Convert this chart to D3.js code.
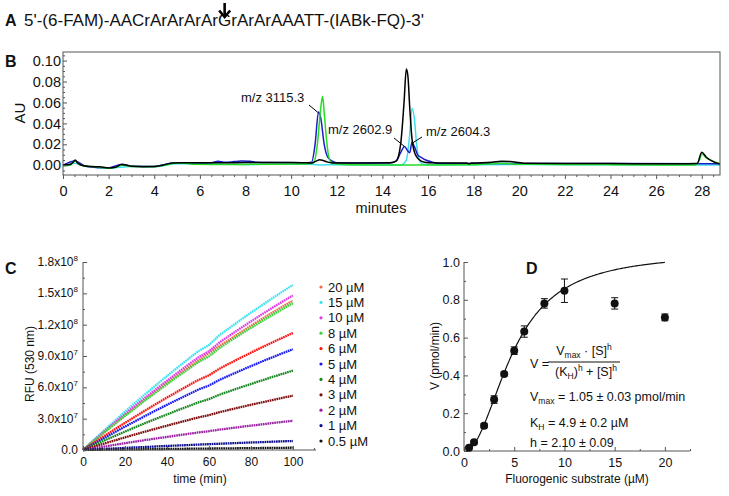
<!DOCTYPE html>
<html><head><meta charset="utf-8">
<script src="https://cdn.jsdelivr.net/npm/d3@7"></script>
<style>body{margin:0;background:#fff} text{font-family:"Liberation Sans",Arial,sans-serif;fill:#111}</style>
</head><body><svg id="c" width="729" height="496"></svg>
<script>
// ---------------- DATA ----------------
const seqLabel = "5'-(6-FAM)-AACrArArArArGrArArAAATT-(IABk-FQ)-3'";

// Panel B: chromatogram traces (minutes, AU)
const blackT = [0,0.3,0.45,0.53,0.65,0.9,1.2,1.6,2.0,2.3,2.55,2.75,3.0,3.5,4.0,4.4,4.8,5.2,6,7,8,9,10,10.5,10.9,11.1,11.25,11.4,11.6,11.9,12.5,13.5,14.3,14.6,14.8,14.95,15.05,15.12,15.2,15.3,15.45,15.7,16,17,17.7,17.8,17.9,18.8,19.2,19.6,20.2,22,24,25,27,27.8,28.0,28.2,28.5,28.8];
const blackAU = [0.0005,0.0008,0.003,0.005,0.002,-0.0005,-0.0012,-0.0015,-0.0025,-0.002,0.0008,0.0003,-0.001,-0.0013,-0.0012,0.0003,0.0022,0.0025,0.0025,0.0024,0.0026,0.0026,0.0027,0.0025,0.0022,0.004,0.0052,0.0045,0.003,0.0022,0.0022,0.0022,0.0023,0.004,0.02,0.06,0.092,0.085,0.055,0.025,0.01,0.004,0.0025,0.0022,0.0022,0.0012,0.0022,0.0028,0.0038,0.0035,0.002,0.0018,0.0016,0.0015,0.0015,0.0018,0.0124,0.0077,0.0035,0.0012];
const greenT = [0,0.3,0.53,0.7,1,1.5,2,2.3,2.6,3,4,4.5,4.9,5.4,5.7,7,8,9,10.3,10.8,11.0,11.15,11.3,11.38,11.45,11.55,11.65,11.8,12.5,14,16,18,18.8,19.2,20,22,23.9,24.1,26,27.7,27.9,28.0,28.2,28.5,28.8];
const greenAU = [-0.0005,0,0.004,0.001,-0.001,-0.0015,-0.0028,-0.002,0.0003,-0.0012,-0.0013,0.0003,0.002,0.002,0.001,0.0008,0.0008,0.001,0.0012,0.0015,0.003,0.02,0.055,0.066,0.05,0.025,0.008,0.002,0.0005,0.0002,0.0003,0.0005,0.0015,0.002,0.001,0.0008,0.0008,0.0004,0.0003,0.0003,0.005,0.011,0.007,0.004,0.0015];
const blueT = [0,0.53,1,2,2.6,3,4,4.8,5.5,6.5,6.8,7.1,7.5,7.8,8.2,8.5,9,10.5,10.9,11.05,11.2,11.3,11.45,11.6,11.8,12.0,13,14.3,14.6,14.8,14.97,15.1,15.2,15.3,15.4,15.55,15.7,15.9,16.2,16.4,17,20,24,28.8];
const blueAU = [0,0.004,-0.001,-0.0025,0.001,-0.001,-0.0012,0.002,0.0022,0.0025,0.0038,0.0028,0.0035,0.004,0.0038,0.0028,0.0026,0.0025,0.003,0.02,0.051,0.045,0.02,0.008,0.004,0.0025,0.0022,0.0022,0.004,0.012,0.018,0.014,0.012,0.022,0.018,0.01,0.0075,0.005,0.003,0.002,0.0018,0.0018,0.0016,0.0014];
const cyanT = [0,0.5,1,2,3,4,5,8,10.8,11.2,11.6,14.8,15.05,15.2,15.3,15.4,15.5,15.6,15.8,16.5,20,24,28.8];
const cyanAU = [-0.0005,0.002,-0.001,-0.0028,-0.0012,-0.0013,0.0015,0.0008,0.001,0.0003,0.0004,0.0003,0.005,0.03,0.0545,0.045,0.02,0.006,0.001,0.0003,0.0008,0.0004,0.0003];
const bYTicks = [0,0.02,0.04,0.06,0.08,0.10];
const bXTicks = [0,2,4,6,8,10,12,14,16,18,20,22,24,26,28];
const peakLabels = ["m/z 3115.3","m/z 2602.9","m/z 2604.3"];
const peakT = [11.2,14.97,15.3];
const peakAU = [0.05,0.018,0.021];

// Panel C: fluorescence vs time (RFU in units of 1e7)
const cTime = [0,5,10,15,20,25,30,35,40,45,50,55,60,65,70,75,80,85,90,95,100];
const cLabels = ["20 \u00b5M","15 \u00b5M","10 \u00b5M","8 \u00b5M","6 \u00b5M","5 \u00b5M","4 \u00b5M","3 \u00b5M","2 \u00b5M","1 \u00b5M","0.5 \u00b5M"];
const cColors = ["#f26a48","#3de3f0","#e03ce6","#3fd33f","#ff1414","#1818f0","#14881e","#7e0c0c","#9a1fa3","#0a0a8c","#111111"];
const c20 = [0,0.85,1.69,2.51,3.32,4.11,4.89,5.66,6.41,7.14,7.87,8.57,9.27,9.95,10.61,11.26,11.90,12.52,13.13,13.72,14.3];
const c15 = [0,0.94,1.86,2.77,3.67,4.54,5.40,6.25,7.08,7.89,8.69,9.47,10.05,10.99,11.72,12.44,13.15,13.83,14.50,15.16,15.8];
const c10 = [0,0.88,1.75,2.60,3.43,4.26,5.06,5.85,6.63,7.39,8.14,8.87,9.45,10.29,10.98,11.66,12.31,12.96,13.59,14.20,14.8];
const c8 = [0,0.84,1.66,2.47,3.26,4.04,4.81,5.56,6.29,7.02,7.73,8.42,8.95,9.77,10.43,11.06,11.69,12.30,12.90,13.48,14.05];
const c6 = [0,0.67,1.32,1.97,2.60,3.22,3.83,4.43,5.02,5.59,6.16,6.71,7.15,7.79,8.31,8.82,9.32,9.81,10.28,10.75,11.2];
const c5 = [0,0.57,1.14,1.69,2.24,2.77,3.30,3.82,4.32,4.82,5.31,5.79,6.17,6.71,7.16,7.60,8.03,8.45,8.86,9.26,9.65];
const c4 = [0,0.45,0.90,1.33,1.76,2.19,2.60,3.01,3.40,3.80,4.18,4.56,4.87,5.29,5.64,5.99,6.32,6.65,6.98,7.29,7.6];
const c3 = [0,0.31,0.61,0.91,1.21,1.50,1.78,2.06,2.33,2.60,2.86,3.12,3.34,3.62,3.86,4.10,4.33,4.55,4.77,4.99,5.2];
const c2 = [0,0.17,0.33,0.49,0.65,0.81,0.96,1.11,1.25,1.40,1.54,1.68,1.80,1.95,2.08,2.21,2.33,2.45,2.57,2.69,2.8];
const c1 = [0,0.05,0.10,0.15,0.20,0.25,0.29,0.34,0.39,0.43,0.47,0.52,0.56,0.60,0.64,0.68,0.72,0.75,0.79,0.83,0.86];
const c05 = [0,0.01,0.03,0.04,0.05,0.06,0.08,0.09,0.10,0.11,0.12,0.13,0.14,0.15,0.16,0.17,0.18,0.19,0.20,0.21,0.22];
const cSeries = [c20,c15,c10,c8,c6,c5,c4,c3,c2,c1,c05];
const RFU_UNIT = 1e7;
const cYTickVals = [0,3e7,6e7,9e7,1.2e8,1.5e8,1.8e8];
const cYTickMant = ["0.0","3.0","6.0","9.0","1.2","1.5","1.8"];
const cYTickExp = ["","7","7","7","8","8","8"];
const cXTicks = [0,20,40,60,80,100];

// Panel D: velocity vs substrate
const dConc = [0.5,1,2,3,4,5,6,8,10,15,20];
const dV = [0.017,0.046,0.134,0.272,0.407,0.531,0.632,0.781,0.848,0.781,0.707];
const dErr = [0.005,0.008,0.012,0.02,0.01,0.02,0.03,0.025,0.062,0.03,0.018];
const VMAX = 1.05, KH = 4.9, HILL = 2.10;
const dXTicks = [0,5,10,15,20];
const dYTicks = [0,0.2,0.4,0.6,0.8,1.0];

// ---------------- DRAW ----------------
const svg = d3.select("#c");
svg.append("rect").attr("width",729).attr("height",496).attr("fill","#fff");
const AX = "#555";

function panelLetter(x,y,t){ svg.append("text").attr("x",x).attr("y",y).attr("font-size",16).attr("font-weight","bold").text(t); }

// ---- Panel A
panelLetter(5,26,"A");
const seqT = svg.append("text").attr("x",24).attr("y",26).attr("font-size",17).text(seqLabel);
{
  const n = seqT.node(); const gi = seqLabel.indexOf("G");
  const ax = 24 + n.getSubStringLength(0,gi) + n.getSubStringLength(gi,1)/2;
  svg.append("path").attr("d",`M${ax},3 L${ax},16`).attr("stroke","#000").attr("stroke-width",2.6);
  svg.append("path").attr("d",`M${ax-5.5},10.5 L${ax},17 L${ax+5.5},10.5`).attr("stroke","#000").attr("stroke-width",2.6).attr("fill","none");
}

// ---- Panel B
panelLetter(5,67,"B");
const bx = d3.scaleLinear([0,28.8],[63,720]);
const by = d3.scaleLinear([-0.0093,0.1082],[175,52]);
const gB = svg.append("g");
function trace(T,V,color){
  const line = d3.line().x((d,i)=>bx(T[i])).y((d,i)=>by(V[i])).curve(d3.curveMonotoneX);
  gB.append("path").attr("d",line(T)).attr("fill","none").attr("stroke",color).attr("stroke-width",1.5);
}
trace(cyanT,cyanAU,"#3be0ee");
trace(blueT,blueAU,"#1c1cc8");
trace(greenT,greenAU,"#25dc25");
trace(blackT,blackAU,"#000");
gB.append("rect").attr("x",bx.range()[0]).attr("y",by.range()[1]).attr("width",bx.range()[1]-bx.range()[0]).attr("height",by.range()[0]-by.range()[1]).attr("fill","none").attr("stroke",AX);
// axes
gB.append("g").attr("transform",`translate(0,${by.range()[0]})`).call(d3.axisBottom(bx).tickValues(bXTicks).tickSize(4).tickPadding(7).tickFormat(d3.format("d")));
gB.append("g").attr("transform",`translate(0,${by.range()[0]})`).call(d3.axisBottom(bx).tickValues(d3.range(0,28.8,0.5).filter(v=>v%2!==0)).tickSize(2).tickFormat(""));
gB.append("g").attr("transform",`translate(${bx.range()[0]},0)`).call(d3.axisLeft(by).tickValues(bYTicks).tickSize(-4).tickPadding(2).tickFormat(d3.format(".2f")));
gB.append("g").attr("transform",`translate(${bx.range()[0]},0)`).call(d3.axisLeft(by).tickValues([-0.005,0.005,0.01,0.015,0.025,0.03,0.035,0.045,0.05,0.055,0.065,0.07,0.075,0.085,0.09,0.095,0.105]).tickSize(-2).tickFormat(""));
gB.selectAll(".domain").remove();
gB.selectAll(".tick line").attr("stroke",AX);
gB.selectAll(".tick text").attr("font-size",14.5).attr("font-family","Liberation Sans, Arial").attr("fill","#111");
gB.append("text").attr("transform","translate(25,113) rotate(-90)").attr("text-anchor","middle").attr("font-size",15).text("AU");
gB.append("text").attr("x",381).attr("y",213).attr("text-anchor","middle").attr("font-size",14.5).text("minutes");
// peak annotations
const annTextPos = [[241,102],[328,134],[426,136]];
const annLineStart = [[309,105],[394,138],[422,137]];
peakLabels.forEach((l,i)=>{
  gB.append("text").attr("x",annTextPos[i][0]).attr("y",annTextPos[i][1]).attr("font-size",13).text(l);
  gB.append("line").attr("x1",annLineStart[i][0]).attr("y1",annLineStart[i][1]).attr("x2",bx(peakT[i])).attr("y2",by(peakAU[i])).attr("stroke","#000").attr("stroke-width",1);
});

// ---- Panel C
panelLetter(5,274,"C");
const cx = d3.scaleLinear([0,111],[83,316]);
const cy = d3.scaleLinear([0,1.8e8],[450,262]);
const gC = svg.append("g");
cSeries.forEach((s,k)=>{
  const line = d3.line().x((d,i)=>cx(cTime[i])).y(d=>cy(d*RFU_UNIT));
  gC.append("path").attr("d",line(s)).attr("fill","none").attr("stroke",cColors[k]).attr("stroke-width",2.3).attr("stroke-dasharray","1.7,0.6");
});
gC.append("line").attr("x1",cx(0)).attr("x2",cx(0)).attr("y1",cy(0)).attr("y2",cy(1.8e8)).attr("stroke",AX);
gC.append("line").attr("x1",cx(0)).attr("x2",cx.range()[1]).attr("y1",cy(0)).attr("y2",cy(0)).attr("stroke",AX);
gC.append("g").attr("transform",`translate(0,${cy(0)})`).call(d3.axisBottom(cx).tickValues(cXTicks).tickSize(-4).tickPadding(7).tickFormat(d3.format("d")));
gC.append("g").attr("transform",`translate(0,${cy(0)})`).call(d3.axisBottom(cx).tickValues([10,30,50,70,90,110]).tickSize(-2).tickFormat(""));
gC.append("g").attr("transform",`translate(${cx(0)},0)`).call(d3.axisLeft(cy).tickValues(cYTickVals).tickSize(-4).tickFormat(""));
gC.append("g").attr("transform",`translate(${cx(0)},0)`).call(d3.axisLeft(cy).tickValues(cYTickVals.slice(0,6).map(v=>v+1.5e7)).tickSize(-2).tickFormat(""));
gC.selectAll(".domain").remove();
gC.selectAll(".tick line").attr("stroke",AX);
gC.selectAll(".tick text").attr("font-size",12).attr("font-family","Liberation Sans, Arial").attr("fill","#111");
cYTickVals.forEach((v,i)=>{
  const t = gC.append("text").attr("x",cx(0)-5).attr("y",cy(v)+4).attr("text-anchor","end").attr("font-size",12);
  t.append("tspan").text(cYTickMant[i] + (cYTickExp[i] ? "x10" : ""));
  if(cYTickExp[i]) t.append("tspan").attr("font-size",8).attr("dy",-5).text(cYTickExp[i]);
});
gC.append("text").attr("transform","translate(34,364) rotate(-90)").attr("text-anchor","middle").attr("font-size",12).text("RFU (530 nm)");
gC.append("text").attr("x",200).attr("y",483).attr("text-anchor","middle").attr("font-size",12).text("time (min)");
cLabels.forEach((l,i)=>{
  const yy = 287 + i*15.4;
  gC.append("circle").attr("cx",321).attr("cy",yy).attr("r",1.6).attr("fill",cColors[i]);
  gC.append("text").attr("x",328).attr("y",yy+4.6).attr("font-size",13).text(l);
});

// ---- Panel D
panelLetter(526,274,"D");
const dx = d3.scaleLinear([0,22.5],[464,690]);
const dy = d3.scaleLinear([0,1],[451,262]);
const gD = svg.append("g");
gD.append("line").attr("x1",dx(0)).attr("x2",dx(0)).attr("y1",dy(0)).attr("y2",dy(1)).attr("stroke",AX);
gD.append("line").attr("x1",dx(0)).attr("x2",dx.range()[1]).attr("y1",dy(0)).attr("y2",dy(0)).attr("stroke",AX);
gD.append("g").attr("transform",`translate(0,${dy(0)})`).call(d3.axisBottom(dx).tickValues(dXTicks).tickSize(-4).tickPadding(7).tickFormat(d3.format("d")));
gD.append("g").attr("transform",`translate(0,${dy(0)})`).call(d3.axisBottom(dx).tickValues([2.5,7.5,12.5,17.5,22.5]).tickSize(-2).tickFormat(""));
gD.append("g").attr("transform",`translate(${dx(0)},0)`).call(d3.axisLeft(dy).tickValues(dYTicks).tickSize(-4).tickPadding(4).tickFormat(d3.format(".1f")));
gD.append("g").attr("transform",`translate(${dx(0)},0)`).call(d3.axisLeft(dy).tickValues([0.1,0.3,0.5,0.7,0.9]).tickSize(-2).tickFormat(""));
gD.selectAll(".domain").remove();
gD.selectAll(".tick line").attr("stroke",AX);
gD.selectAll(".tick text").attr("font-size",12.5).attr("font-family","Liberation Sans, Arial").attr("fill","#111");
// fit curve (Hill equation with fitted parameters)
const fitX = d3.range(0.4,20.001,0.1);
gD.append("path").attr("d",d3.line().x(d=>dx(d)).y(d=>dy(VMAX*Math.pow(d,HILL)/(Math.pow(KH,HILL)+Math.pow(d,HILL))))(fitX)).attr("fill","none").attr("stroke","#111").attr("stroke-width",1.2);
dConc.forEach((c,i)=>{
  const x = dx(c);
  gD.append("line").attr("x1",x).attr("x2",x).attr("y1",dy(dV[i]-dErr[i])).attr("y2",dy(dV[i]+dErr[i])).attr("stroke","#111");
  [dV[i]-dErr[i], dV[i]+dErr[i]].forEach(v=>gD.append("line").attr("x1",x-3.5).attr("x2",x+3.5).attr("y1",dy(v)).attr("y2",dy(v)).attr("stroke","#111"));
  gD.append("circle").attr("cx",x).attr("cy",dy(dV[i])).attr("r",4).attr("fill","#111");
});
gD.append("text").attr("transform","translate(439,356) rotate(-90)").attr("text-anchor","middle").attr("font-size",12).text("V (pmol/min)");
gD.append("text").attr("x",577).attr("y",483).attr("text-anchor","middle").attr("font-size",12).text("Fluorogenic substrate (\u00b5M)");
// equation
const EQ = 12.5;
gD.append("text").attr("x",530).attr("y",368).attr("font-size",EQ).text("V =");
const num = gD.append("text").attr("x",584).attr("y",355).attr("text-anchor","middle").attr("font-size",EQ);
num.append("tspan").text("V"); num.append("tspan").attr("font-size",8.5).attr("dy",3).text("max");
num.append("tspan").attr("dy",-3).text(" \u00b7 [S]"); num.append("tspan").attr("font-size",8.5).attr("dy",-5).text("h");
gD.append("line").attr("x1",548).attr("x2",620).attr("y1",362).attr("y2",362).attr("stroke","#111").attr("stroke-width",1);
const den = gD.append("text").attr("x",586).attr("y",376).attr("text-anchor","middle").attr("font-size",EQ);
den.append("tspan").text("(K"); den.append("tspan").attr("font-size",8.5).attr("dy",3).text("H");
den.append("tspan").attr("dy",-3).text(")"); den.append("tspan").attr("font-size",8.5).attr("dy",-5).text("h");
den.append("tspan").attr("dy",5).text(" + [S]"); den.append("tspan").attr("font-size",8.5).attr("dy",-5).text("h");
const l1 = gD.append("text").attr("x",530).attr("y",401).attr("font-size",EQ);
l1.append("tspan").text("V"); l1.append("tspan").attr("font-size",8.5).attr("dy",3).text("max"); l1.append("tspan").attr("dy",-3).text(" = 1.05 \u00b1 0.03 pmol/min");
const l2 = gD.append("text").attr("x",530).attr("y",427).attr("font-size",EQ);
l2.append("tspan").text("K"); l2.append("tspan").attr("font-size",8.5).attr("dy",3).text("H"); l2.append("tspan").attr("dy",-3).text(" = 4.9 \u00b1 0.2 \u00b5M");
gD.append("text").attr("x",530).attr("y",447).attr("font-size",EQ).text("h = 2.10 \u00b1 0.09");
</script></body></html>
